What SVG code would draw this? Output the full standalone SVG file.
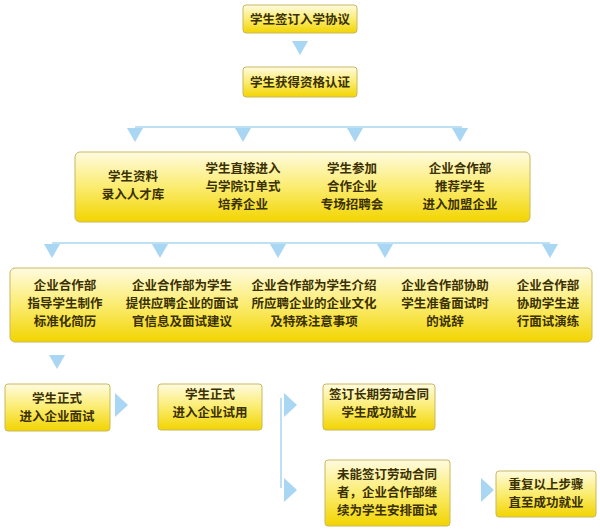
<svg xmlns="http://www.w3.org/2000/svg" width="600" height="529" viewBox="0 0 600 529">
<defs>
<linearGradient id="g" x1="0" y1="0" x2="0" y2="1">
<stop offset="0" stop-color="#fffbe0"/><stop offset="0.5" stop-color="#fbec70"/><stop offset="1" stop-color="#f2d400"/>
</linearGradient>
<path id="ad" d="M-8,0 L8,0 L0,14 Z" fill="#a9d6f2"/>
<path id="ar" d="M0,-12 L13,0 L0,12 Z" fill="#a9d6f2"/>
</defs>
<style>
.b{fill:url(#g);stroke:#c9b860;stroke-width:1}
text{font-family:"Noto Sans CJK SC","Liberation Sans",sans-serif;font-size:12.5px;font-weight:bold;fill:#3a3000;text-anchor:middle}
.l{stroke:#a9d6f2;stroke-width:1.5;fill:none}
</style>
<rect width="600" height="529" fill="#fff"/>
<g id="connectors">
<use href="#ad" x="300" y="41"/>
<path class="l" d="M135,127 H462"/>
<use href="#ad" x="135" y="128"/><use href="#ad" x="243" y="128"/><use href="#ad" x="355" y="128"/><use href="#ad" x="460" y="128"/>
<path class="l" d="M52,243 H550"/>
<use href="#ad" x="52" y="244"/><use href="#ad" x="160" y="244"/><use href="#ad" x="278" y="244"/><use href="#ad" x="385" y="244"/><use href="#ad" x="550" y="244"/>
<use href="#ad" x="57" y="355"/>
<use href="#ar" x="115" y="405"/>
<path class="l" d="M281,398 V488"/>
<use href="#ar" x="284" y="405"/><use href="#ar" x="284" y="490"/>
<use href="#ar" x="481" y="490"/>
</g>
<g id="n1"><rect class="b" x="243" y="5" width="114" height="28" rx="3"/><text x="300" y="24">学生签订入学协议</text></g>
<g id="n2"><rect class="b" x="243" y="67" width="114" height="30" rx="3"/><text x="300" y="87">学生获得资格认证</text></g>
<g id="n3"><rect class="b" x="75" y="152" width="455" height="70" rx="5"/>
<text x="133" y="181">学生资料</text><text x="133" y="199">录入人才库</text>
<text x="243" y="173">学生直接进入</text><text x="243" y="191">与学院订单式</text><text x="243" y="209">培养企业</text>
<text x="352" y="173">学生参加</text><text x="352" y="191">合作企业</text><text x="352" y="209">专场招聘会</text>
<text x="460" y="173">企业合作部</text><text x="460" y="191">推荐学生</text><text x="460" y="209">进入加盟企业</text></g>
<g id="n4"><rect class="b" x="10" y="268" width="582" height="74" rx="5"/>
<text x="65" y="290">企业合作部</text><text x="65" y="308">指导学生制作</text><text x="65" y="326">标准化简历</text>
<text x="182" y="290">企业合作部为学生</text><text x="182" y="308">提供应聘企业的面试</text><text x="182" y="326">官信息及面试建议</text>
<text x="314" y="290">企业合作部为学生介绍</text><text x="314" y="308">所应聘企业的企业文化</text><text x="314" y="326">及特殊注意事项</text>
<text x="445" y="290">企业合作部协助</text><text x="445" y="308">学生准备面试时</text><text x="445" y="326">的说辞</text>
<text x="548" y="290">企业合作部</text><text x="548" y="308">协助学生进</text><text x="548" y="326">行面试演练</text></g>
<g id="n5"><rect class="b" x="5" y="384" width="105" height="47" rx="3"/><text x="57" y="403">学生正式</text><text x="57" y="421">进入企业面试</text></g>
<g id="n6"><rect class="b" x="158" y="384" width="104" height="46" rx="3"/><text x="210" y="399">学生正式</text><text x="210" y="417">进入企业试用</text></g>
<g id="n7"><rect class="b" x="323" y="384" width="112" height="46" rx="3"/><text x="379" y="399">签订长期劳动合同</text><text x="379" y="417">学生成功就业</text></g>
<g id="n8"><rect class="b" x="325" y="460" width="125" height="66" rx="3"/><text x="387" y="479">未能签订劳动合同</text><text x="387" y="497">者，企业合作部继</text><text x="387" y="515">续为学生安排面试</text></g>
<g id="n9"><rect class="b" x="496" y="471" width="100" height="46" rx="3"/><text x="546" y="489">重复以上步骤</text><text x="546" y="507">直至成功就业</text></g>
</svg>
